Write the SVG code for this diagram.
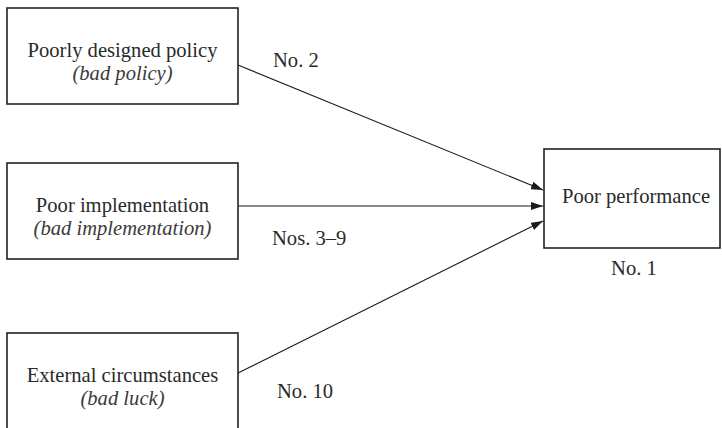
<svg xmlns="http://www.w3.org/2000/svg" width="722" height="428" viewBox="0 0 722 428">
  <defs>
    <marker id="arrow" viewBox="0 0 12 8" refX="12" refY="4" markerWidth="12" markerHeight="8" markerUnits="userSpaceOnUse" orient="auto">
      <path d="M0,0 L12,4 L0,8 Z" fill="#1a1a1a"/>
    </marker>
    <style>
      .box { fill: #ffffff; stroke: #222222; stroke-width: 1.6; }
      .lbl { font-size: 20.6px; fill: #2a2a2a; }
      .it { font-style: italic; fill: #3a3a3a; }
      .mid { text-anchor: middle; }
      .edge { fill: none; stroke: #1a1a1a; stroke-width: 1.1; marker-end: url(#arrow); }
    </style>
  </defs>
  <rect width="722" height="428" fill="#ffffff"/>

  <g font-family="Liberation Serif, Tinos, DejaVu Serif, serif">
  <g id="connectors">
    <line class="edge" x1="238" y1="65" x2="543" y2="190"/>
    <line class="edge" x1="238" y1="206" x2="543" y2="206"/>
    <line class="edge" x1="238" y1="373" x2="543" y2="221"/>
    <text class="lbl" x="273" y="67">No. 2</text>
    <text class="lbl" x="272" y="245">Nos. 3–9</text>
    <text class="lbl" x="277" y="398">No. 10</text>
  </g>

  <g id="bad-policy">
    <rect class="box" x="7" y="8" width="231" height="96"/>
    <text class="lbl mid" x="122.5" y="57">Poorly designed policy</text>
    <text class="lbl it mid" x="122.5" y="80">(bad policy)</text>
  </g>

  <g id="bad-implementation">
    <rect class="box" x="7" y="163" width="231" height="96"/>
    <text class="lbl mid" x="122.5" y="212">Poor implementation</text>
    <text class="lbl it mid" x="122.5" y="235">(bad implementation)</text>
  </g>

  <g id="bad-luck">
    <rect class="box" x="7" y="333" width="231" height="100"/>
    <text class="lbl mid" x="122.5" y="382">External circumstances</text>
    <text class="lbl it mid" x="122.5" y="405">(bad luck)</text>
  </g>

  <g id="poor-performance">
    <rect class="box" x="544" y="149" width="176" height="99"/>
    <text class="lbl mid" x="636" y="203">Poor performance</text>
    <text class="lbl mid" x="634" y="275">No. 1</text>
  </g>
  </g>
</svg>
